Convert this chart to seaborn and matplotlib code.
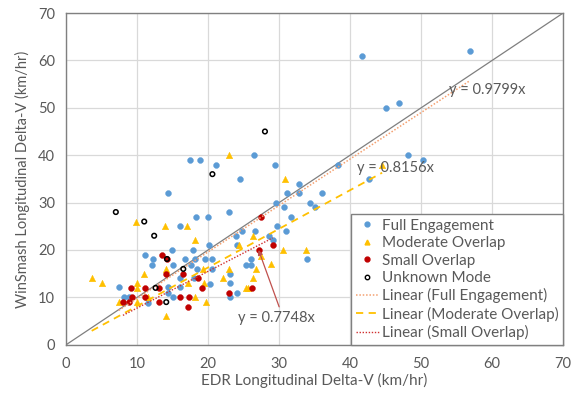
import numpy as np
import pandas as pd
import matplotlib
matplotlib.use("Agg")
import matplotlib.pyplot as plt
import seaborn as sns
from matplotlib.lines import Line2D

# ---- data (km/hr) ----
full_x = [17.4, 18.8, 21.1, 24.5, 14.3, 23.0, 18.3, 20.0, 16.1, 23.9, 20.1, 14.9, 17.8, 11.1, 12.2,
          12.1, 16.7, 18.1, 19.6, 20.5, 15.1, 17.6, 24.0, 18.4, 20.6, 16.0, 18.0, 23.1, 23.1, 20.2,
          16.1, 14.4, 7.4, 8.1, 8.8, 15.1, 24.1, 23.1, 11.5, 14.3,
          26.5, 29.4, 38.3, 42.7, 32.8, 31.1, 32.8, 36.1, 29.5, 30.7, 34.3, 35.0, 31.7, 29.7, 31.0,
          26.6, 24.7, 28.6, 29.1, 33.9, 26.1, 25.3, 26.1,
          41.6, 56.9, 45.0, 46.9, 48.1, 50.2]
full_y = [39, 39, 38, 35, 32, 28, 27, 27, 25, 23, 21, 20, 20, 19, 18.1,
          16.9, 18.1, 18.1, 18.1, 18.1, 16.9, 16.9, 21, 16, 16, 14, 14, 15, 13, 12.9,
          12.1, 12.1, 12.1, 10.1, 10.1, 10.1, 10.9, 10.1, 8.9, 11,
          40, 38, 38, 35, 34, 32, 32, 32, 30, 29, 30, 29, 27, 25, 24,
          24, 24, 23, 22, 18.1, 18.1, 16.9, 16.9,
          61, 62, 50, 51, 40, 39]

mod_x = [23.0, 9.9, 13.9, 17.0, 18.1, 3.6, 5.1, 11.0, 14.1, 19.3, 10.0, 10.0, 17.1, 19.4, 22.1,
         23.0, 24.3, 18.1, 19.7, 7.4, 10.0, 14.1, 11.6,
         30.8, 26.3, 30.5, 33.8, 27.4, 28.8, 26.8, 26.3, 25.3, 25.6, 44.5]
mod_y = [40, 26, 25, 25, 22, 14, 13, 15, 16, 16, 13, 12, 13, 13, 14,
         16, 21, 10, 9, 9, 9, 6, 10,
         35, 23, 20, 20, 18.8, 17, 16, 14, 12, 12, 38]

small_x = [13.5, 14.2, 14.1, 16.5, 18.6, 19.1, 9.1, 11.1, 13.1, 9.3, 11.1, 16.1, 17.3, 8.0, 8.8,
           13.1, 17.1, 22.9, 27.5, 29.1, 27.1, 26.2]
small_y = [19, 18.1, 15, 15, 14, 12, 12, 12, 12, 10, 10, 10, 10, 9, 9,
           9, 8, 11, 27, 21, 20, 12]

unk_x = [20.6, 7.0, 11.0, 12.4, 14.2, 16.5, 12.6, 14.1, 28.0]
unk_y = [36, 28, 26, 23, 18.1, 16, 12, 9, 45]

series_names = ["Full Engagement", "Moderate Overlap", "Small Overlap", "Unknown Mode"]
trend_slopes = [0.9799, 0.8156, 0.7748]
trend_labels = ["y = 0.9799x", "y = 0.8156x", "y = 0.7748x"]
axis_ticks = [0, 10, 20, 30, 40, 50, 60, 70]

# ---- style ----
sns.set_theme(style="white")
plt.rcParams["font.family"] = ["Lato", "DejaVu Sans"]

fig = plt.figure(figsize=(5.8, 3.94), dpi=100)
ax = fig.add_axes([0.114, 0.125, 0.857, 0.842])

blue = "#5B9BD5"
gold = "#FFC000"
red = "#C00000"
txtc = "#595959"

# reference y = x line
diag = pd.DataFrame({"x": [0, 70], "y": [0, 70]})
sns.lineplot(data=diag, x="x", y="y", ax=ax, color="#7F7F7F", linewidth=0.9, zorder=2)

# scatter series
df_full = pd.DataFrame({"x": full_x, "y": full_y})
df_mod = pd.DataFrame({"x": mod_x, "y": mod_y})
df_small = pd.DataFrame({"x": small_x, "y": small_y})
df_unk = pd.DataFrame({"x": unk_x, "y": unk_y})

sns.scatterplot(data=df_full, x="x", y="y", ax=ax, color=blue, marker="o", s=18,
                edgecolor=blue, linewidth=0.3, zorder=3)
sns.scatterplot(data=df_mod, x="x", y="y", ax=ax, color=gold, marker="^", s=22,
                edgecolor=gold, linewidth=0.3, zorder=3)
sns.scatterplot(data=df_small, x="x", y="y", ax=ax, color=red, marker="o", s=18,
                edgecolor=red, linewidth=0.3, zorder=4)
sns.scatterplot(data=df_unk, x="x", y="y", ax=ax, facecolor="none", marker="o", s=11,
                edgecolor="black", linewidth=1.1, zorder=5)

# trend lines through origin over each series' x range
trend_styles = [
    dict(color="#F4A070", linestyle=(0, (1, 1.2)), linewidth=1.1),
    dict(color=gold, linestyle=(0, (4, 3)), linewidth=1.3),
    dict(color="#D03030", linestyle=(0, (1, 1.2)), linewidth=1.0),
]
for xs, k, st in zip([full_x, mod_x, small_x], trend_slopes, trend_styles):
    lo, hi = min(xs), max(xs)
    tdf = pd.DataFrame({"x": [lo, hi], "y": [k * lo, k * hi]})
    sns.lineplot(data=tdf, x="x", y="y", ax=ax, zorder=4, **st)

# equation labels
txt_kw = dict(fontsize=10.5, color=txtc, zorder=6)
ax.text(53.9, 53.8, trend_labels[0], ha="left", va="center", **txt_kw)
ax.text(41.0, 37.3, trend_labels[1], ha="left", va="center", **txt_kw)
ax.text(24.2, 5.6, trend_labels[2], ha="left", va="center", **txt_kw)
ax.annotate("", xy=(27.1, 20.0), xytext=(30.0, 8.0),
            arrowprops=dict(arrowstyle="-|>", color="#C0504D", lw=0.9,
                            mutation_scale=7, shrinkA=0, shrinkB=0), zorder=6)

# axes
ax.set_xlim(0, 70)
ax.set_ylim(0, 70)
ax.set_xticks(axis_ticks)
ax.set_yticks(axis_ticks)
ax.grid(True, color="#D9D9D9", linewidth=0.9)
ax.set_axisbelow(True)
for side in ["left", "bottom", "top", "right"]:
    ax.spines[side].set_color("#808080")
    ax.spines[side].set_linewidth(1.0)
ax.tick_params(axis="x", labelsize=10.5, colors=txtc, length=0, pad=9)
ax.tick_params(axis="y", labelsize=10.5, colors=txtc, length=0, pad=8)
ax.set_xlabel("EDR Longitudinal Delta-V (km/hr)", fontsize=11, color=txtc, labelpad=1)
ax.set_ylabel("WinSmash Longitudinal Delta-V (km/hr)", fontsize=10.5, color=txtc, labelpad=6)

# legend
handles = [
    Line2D([], [], linestyle="none", marker="o", markersize=3.5, color=blue),
    Line2D([], [], linestyle="none", marker="^", markersize=3.5, color=gold),
    Line2D([], [], linestyle="none", marker="o", markersize=3.5, color=red),
    Line2D([], [], linestyle="none", marker="o", markersize=3.2, markerfacecolor="none",
           markeredgecolor="black", markeredgewidth=1.0),
    Line2D([], [], **trend_styles[0]),
    Line2D([], [], **trend_styles[1]),
    Line2D([], [], **trend_styles[2]),
]
labels = series_names + ["Linear (" + n + ")" for n in series_names[:3]]
leg = ax.legend(handles, labels, loc="lower right", bbox_to_anchor=(1.0, 0.0),
                fontsize=11, frameon=True, fancybox=False, framealpha=1,
                edgecolor="#808080", handlelength=1.5, handletextpad=0.2,
                labelspacing=0.22, borderpad=0.3, borderaxespad=0.0, labelcolor=txtc)
leg.get_frame().set_linewidth(1.0)
leg.set_zorder(10)

fig.savefig("out.png", dpi=100)
